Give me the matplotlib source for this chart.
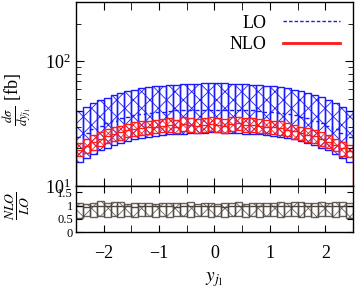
import numpy as np
import matplotlib
matplotlib.use("Agg")
import matplotlib.pyplot as plt
from matplotlib.ticker import MultipleLocator, FixedLocator, FixedFormatter, LogLocator, NullFormatter

plt.rcParams['font.family'] = ['Liberation Serif', 'DejaVu Serif']
plt.rcParams['mathtext.fontset'] = 'stix'
plt.rcParams['hatch.linewidth'] = 0.6

# Bins in y_j1 (40 bins of 0.125 between -2.5 and 2.5)
bordes = np.linspace(-2.5, 2.5, 41)

# Banda LO [fb]
lo_alto = [40, 43, 46, 49, 51, 54, 56, 58, 59.5, 61, 62, 63, 64, 64.5, 65, 65.5, 66, 66, 66.5, 66.5,
           66.5, 66.5, 66, 66, 65.5, 65, 64.5, 64, 63, 62, 61, 59.5, 58, 56, 54, 51.5, 49, 46, 43, 40]
lo_bajo = [15.6, 16.7, 18, 19.3, 20.3, 21.3, 22.3, 23, 23.6, 24.2, 24.7, 25.2, 25.6, 25.9, 26.1, 26.3, 26.5, 26.6, 26.8, 26.9,
           26.9, 26.8, 26.6, 26.5, 26.3, 26.1, 25.9, 25.6, 25.2, 24.7, 24.2, 23.6, 23, 22.3, 21.3, 20.3, 19.3, 18, 16.7, 15.6]
lo_central = [24.5, 26.5, 28.5, 30.5, 32, 33.5, 35, 36, 37, 38, 38.5, 39, 39.5, 40, 40.5, 40.5, 41, 41, 41, 41,
              41, 41, 41, 41, 40.5, 40.5, 40, 39.5, 39, 38.5, 38, 37, 36, 35, 33.5, 32, 30.5, 28.5, 26.5, 24.5]

# Banda NLO [fb]
nlo_alto = [22, 24, 25.5, 27, 28.5, 29.5, 30.5, 31.5, 32.5, 33, 33.5, 34, 34.5, 35, 34, 35.5, 35, 34.5, 35, 35.5,
            35, 34.5, 35.5, 36, 35, 35, 34.5, 34, 33.5, 33, 32, 31, 30, 29, 28, 27, 25.5, 24, 22.5, 21.5]
nlo_bajo = [17.5, 18.5, 19.5, 21, 22, 23, 23.5, 24.5, 25, 25.5, 26, 26.5, 27, 27, 26.5, 27.5, 27, 26.5, 27, 27.5,
            27, 26.5, 27.5, 28, 27, 27, 26.5, 26.5, 26, 25.5, 25, 24, 23.5, 22.5, 22, 21, 20, 19, 17.5, 17]
nlo_central = [19.5, 21, 22.5, 24, 25, 26, 27, 28, 28.5, 29, 29.5, 30, 30.5, 31, 30, 31.5, 31, 30.5, 31, 31.5,
               31, 30.5, 31.5, 32, 31, 31, 30.5, 30, 29.5, 29, 28, 27.5, 26.5, 25.5, 25, 24, 22.5, 21.5, 20, 19]

# Cociente NLO/LO
r_alto = [1.1, 1.08, 1.12, 1.18, 1.1, 1.14, 1.13, 1.08, 1.1, 1.09, 1.12, 1.08, 1.1, 1.11, 1.09, 1.1, 1.13, 1.08, 1.12, 1.1,
          1.08, 1.09, 1.1, 1.13, 1.08, 1.1, 1.12, 1.1, 1.11, 1.14, 1.12, 1.15, 1.13, 1.12, 1.1, 1.14, 1.12, 1.15, 1.13, 1.1]
r_bajo = [0.55, 0.6, 0.58, 0.6, 0.56, 0.6, 0.58, 0.6, 0.57, 0.6, 0.6, 0.58, 0.6, 0.56, 0.6, 0.6, 0.58, 0.6, 0.6, 0.57,
          0.6, 0.58, 0.6, 0.6, 0.56, 0.6, 0.58, 0.6, 0.6, 0.57, 0.6, 0.6, 0.58, 0.6, 0.57, 0.6, 0.6, 0.58, 0.6, 0.55]
r_central = [0.97, 0.96, 0.98, 1.0, 0.97, 0.98, 0.99, 0.97, 0.96, 0.98, 0.97, 0.98, 0.99, 0.97, 0.96, 0.98, 0.97, 0.97, 0.98, 0.97,
             0.97, 0.96, 0.98, 0.99, 0.97, 0.98, 0.97, 0.98, 0.97, 0.98, 0.99, 0.98, 0.99, 0.98, 0.97, 0.99, 0.98, 1.0, 0.99, 0.98]

centros = 0.5 * (bordes[:-1] + bordes[1:])
ancho = bordes[1] - bordes[0]

fig = plt.figure(figsize=(3.58, 2.96), dpi=100)
ax = fig.add_axes([0.212, 0.372, 0.774, 0.621])
axr = fig.add_axes([0.212, 0.216, 0.774, 0.156])

azul = '#1a1aff'
rojo = '#ff1a1a'
gris = '#4d463f'

# Panel principal
ax.bar(centros, np.array(lo_alto) - np.array(lo_bajo), bottom=lo_bajo, width=ancho,
       fill=False, edgecolor=azul, hatch='xx', linewidth=1.0)
ax.bar(centros, np.array(nlo_alto) - np.array(nlo_bajo), bottom=nlo_bajo, width=ancho,
       fill=False, edgecolor=rojo, hatch='xxxx', linewidth=1.0)
ax.stairs(lo_central, bordes, color=azul, linestyle=(0, (3, 2)), linewidth=1.0, baseline=None)
ax.stairs(nlo_central, bordes, color=rojo, linewidth=1.0, baseline=1)

# Leyenda
ax.plot([], [], color=azul, linestyle=(0, (2.5, 1.5)), linewidth=1.0, label='LO')
ax.plot([], [], color=rojo, linewidth=2.0, label='NLO')
handles, labels = ax.get_legend_handles_labels()
ax.legend(handles[-2:], labels[-2:], loc='upper right', frameon=False, fontsize=13,
          markerfirst=False, handlelength=3.2, handletextpad=0.9, labelspacing=0.25,
          borderaxespad=0.3)

ax.set_yscale('log')
ax.set_ylim(10, 300)
ax.set_xlim(-2.5, 2.5)
ax.xaxis.set_major_locator(MultipleLocator(1))
ax.xaxis.set_minor_locator(MultipleLocator(0.5))
ax.xaxis.set_major_formatter(NullFormatter())
ax.yaxis.set_major_locator(LogLocator(base=10))
ax.yaxis.set_minor_locator(LogLocator(base=10, subs=np.arange(2, 10)))
ax.yaxis.set_minor_formatter(NullFormatter())
ax.tick_params(which='both', direction='in', top=True, right=True, labelsize=13)
ax.tick_params(which='major', length=6)
ax.tick_params(which='minor', length=3.5)
ax.tick_params(axis='x', which='minor', length=6)

# Etiquetas del eje y colocadas a mano
fig.text(18 / 358, 1 - 100 / 296, r'$\frac{d\sigma}{dy_{j_1}}$ [fb]', fontsize=13,
         rotation=90, ha='center', va='center')
fig.text(18 / 358, 1 - 206 / 296, r'$\frac{NLO}{LO}$', fontsize=14,
         rotation=90, ha='center', va='center')

# Panel del cociente
axr.bar(centros, np.array(r_alto) - np.array(r_bajo), bottom=r_bajo, width=ancho,
        fill=False, edgecolor=gris, hatch='xx', linewidth=1.0, alpha=0.85)
axr.stairs(r_central, bordes, color=gris, linewidth=1.0, baseline=None)
axr.set_xlim(-2.5, 2.5)
axr.set_ylim(0, 1.75)
axr.xaxis.set_major_locator(MultipleLocator(1))
axr.xaxis.set_minor_locator(MultipleLocator(0.5))
axr.yaxis.set_major_locator(FixedLocator([0, 0.5, 1, 1.5]))
axr.yaxis.set_major_formatter(FixedFormatter(['0', '0.5', '1', '1.5']))
axr.tick_params(which='both', direction='in', top=True, right=True)
axr.tick_params(axis='x', which='both', length=5, labelsize=13, pad=9)
axr.tick_params(axis='y', length=4, labelsize=9, pad=2)
axr.set_xlabel(r'$y_{j_1}$', fontsize=14, labelpad=6)

for a in (ax, axr):
    for s in a.spines.values():
        s.set_linewidth(1.0)

fig.savefig('out.png', dpi=100)
